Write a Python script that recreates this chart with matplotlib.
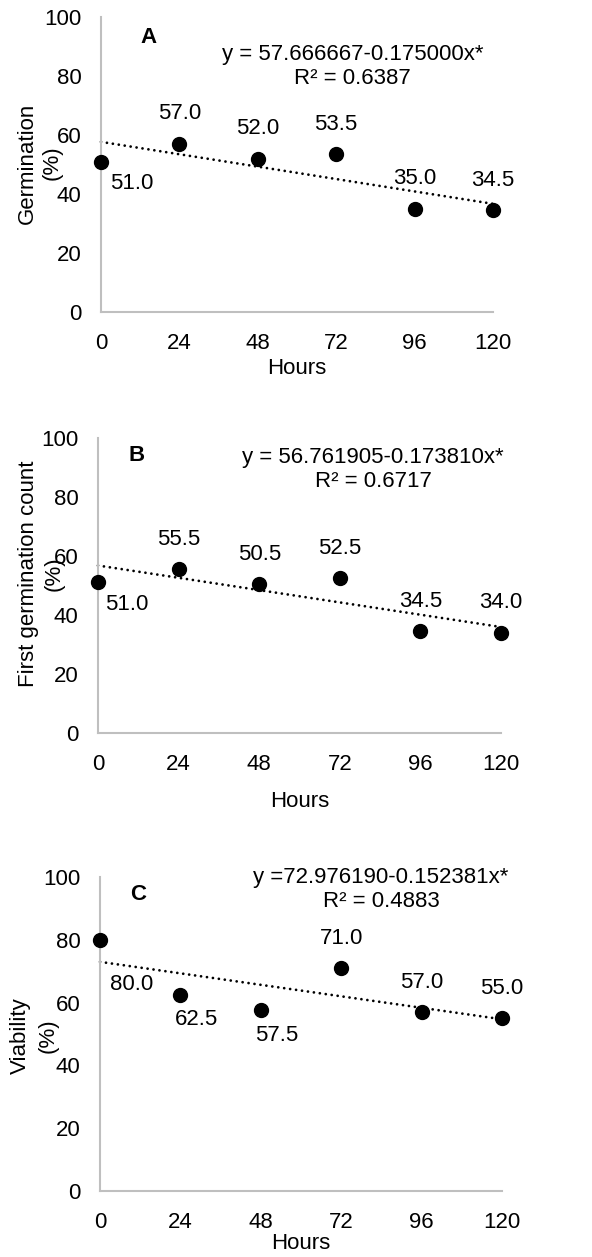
import numpy as np
import matplotlib
matplotlib.use("Agg")
import matplotlib.pyplot as plt

plt.rcParams['font.family'] = ['Liberation Sans', 'DejaVu Sans']

# data
hours = [0, 24, 48, 72, 96, 120]
germination = [51.0, 57.0, 52.0, 53.5, 35.0, 34.5]
first_count = [51.0, 55.5, 50.5, 52.5, 34.5, 34.0]
viability = [80.0, 62.5, 57.5, 71.0, 57.0, 55.0]

intercepts = [57.666667, 56.761905, 72.976190]
slopes = [0.175000, 0.173810, 0.152381]
equations = ["y = 57.666667-0.175000x*\nR² = 0.6387",
             "y = 56.761905-0.173810x*\nR² = 0.6717",
             "y =72.976190-0.152381x*\nR² = 0.4883"]
panel_letters = ["A", "B", "C"]
ylabels = ["Germination\n(%)", "First germination count\n(%)", "Viability\n(%)"]

fig = plt.figure(figsize=(5.92, 12.57), dpi=100)

# axes boxes (left, bottom, width, height) in figure fraction
boxes = [(0.1706, 0.7518, 0.662, 0.2347),
         (0.1655, 0.4169, 0.681, 0.2347),
         (0.1690, 0.0525, 0.679, 0.2498)]
# label offsets in points for each point (dx, dy)
above = (0, 21.5)
offsets = [[(22, -16), above, above, above, above, above],
           [(21, -16), above, above, above, above, above],
           [(23, -32), (11.5, -17.5), (11.5, -18), above, above, above]]
ylabel_pos = [(-0.156, 0.505), (-0.141, 0.539), (-0.164, 0.494)]
ylabel_spacing = [1.2, 1.3, 1.45]
xlabel_y = [-0.19, -0.234, -0.166]
letter_pos = [(14.4, 92.9), (11.6, 94.2), (11.3, 94.3)]
eq_pos = [(77.1, 83.2), (81.9, 89.2), (83.9, 96.0)]

series = [germination, first_count, viability]
fs = 16

for i, vals in enumerate(series):
    ax = fig.add_axes(boxes[i])
    ax.scatter(hours, vals, s=100, color='black', zorder=3, clip_on=False)

    xs = np.array([hours[0], hours[-1]])
    ax.plot(xs, intercepts[i] - slopes[i] * xs, color='black',
            linewidth=2.0, linestyle=(0, (0.01, 2.15)), dash_capstyle='round',
            zorder=2, clip_on=False)

    for x, v, (dx, dy) in zip(hours, vals, offsets[i]):
        ax.annotate(f"{v:.1f}", (x, v), xytext=(dx, dy),
                    textcoords='offset points', ha='center', va='center',
                    fontsize=fs, annotation_clip=False)

    ax.text(letter_pos[i][0], letter_pos[i][1], panel_letters[i],
            fontsize=fs, fontweight='bold', ha='center', va='center')
    ax.text(eq_pos[i][0], eq_pos[i][1], equations[i], fontsize=fs,
            ha='center', va='center', multialignment='center', linespacing=1.2)

    ax.set_xlim(0, 120)
    ax.set_ylim(0, 100)
    ax.set_xticks(hours)
    ax.set_yticks([0, 20, 40, 60, 80, 100])
    ax.tick_params(length=0, labelsize=fs)
    ax.tick_params(axis='y', pad=14)
    ax.tick_params(axis='x', pad=15)
    for side in ['top', 'right']:
        ax.spines[side].set_visible(False)
    for side in ['left', 'bottom']:
        ax.spines[side].set_color('#BFBFBF')
        ax.spines[side].set_linewidth(1.5)

    ax.set_ylabel(ylabels[i], fontsize=fs, linespacing=ylabel_spacing[i])
    ax.yaxis.set_label_coords(*ylabel_pos[i])
    ax.yaxis.label.set_va('center')
    ax.set_xlabel("Hours", fontsize=fs)
    ax.xaxis.set_label_coords(0.5, xlabel_y[i])
    ax.xaxis.label.set_va('center')

fig.savefig("out.png", dpi=100)
